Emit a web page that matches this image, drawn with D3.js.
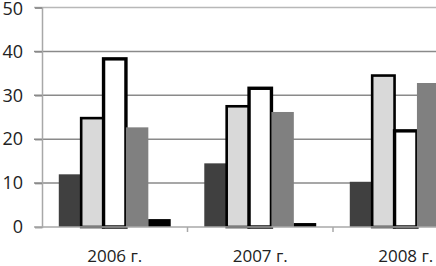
<!DOCTYPE html>
<html>
<head>
<meta charset="utf-8">
<script src="https://cdn.jsdelivr.net/npm/d3@7"></script>
<style>
  body { margin: 0; background: #fff; }
  text { font-family: "Open Sans", sans-serif; fill: #222; }
</style>
</head>
<body>
<div id="chart"></div>
<script>
// Data
const years = ["2006 г.", "2007 г.", "2008 г."];
const series1 = [12, 14.5, 10.3];
const series2 = [24.8, 27.5, 34.5];
const series3 = [38.3, 31.6, 21.9];
const series4 = [22.7, 26.2, 32.8];
const series5 = [1.8, 0.9, 1.5];
const yTicks = [0, 10, 20, 30, 40, 50];

const seriesList = [
    { key: "s1", values: series1, fill: "#404040", stroke: "none", sw: 0 },
    { key: "s2", values: series2, fill: "#d9d9d9", stroke: "#000", sw: 2.6 },
    { key: "s3", values: series3, fill: "#ffffff", stroke: "#000", sw: 3.4 },
    { key: "s4", values: series4, fill: "#808080", stroke: "none", sw: 0 },
    { key: "s5", values: series5, fill: "#000000", stroke: "none", sw: 0 }
];

const width = 436, height = 266;
const plotLeft = 42, plotTop = 7.5, plotBottom = 227;
const catWidth = 145.5;

const svg = d3.select("#chart")
    .append("svg")
    .attr("width", width)
    .attr("height", height);

// Scales - plot runs past the right edge (third group is cut off)
const x = d3.scaleBand()
    .domain(years)
    .range([plotLeft, plotLeft + catWidth * years.length]);

const xInner = d3.scaleBand()
    .domain(seriesList.map(s => s.key))
    .range([0, x.bandwidth()])
    .paddingInner(0)
    .paddingOuter(0.75);

const y = d3.scaleLinear().domain([0, 50]).range([plotBottom, plotTop]);

// Gridlines
svg.append("g")
    .selectAll("line")
    .data(yTicks.filter(d => d > 0))
    .join("line")
    .attr("x1", plotLeft - 8)
    .attr("x2", width)
    .attr("y1", d => y(d))
    .attr("y2", d => y(d))
    .attr("stroke", d => d === 50 ? "#b8b8b8" : "#8a8a8a")
    .attr("stroke-width", 1.5);

// Y axis
const yAxis = svg.append("g")
    .attr("transform", `translate(${plotLeft},0)`)
    .call(d3.axisLeft(y).tickValues(yTicks).tickSize(7).tickPadding(10));
yAxis.select(".domain").attr("stroke", "#a8a8a8").attr("stroke-width", 1.5);
yAxis.selectAll(".tick line").attr("stroke", "#8a8a8a").attr("stroke-width", 1.5);
yAxis.selectAll(".tick text")
    .attr("font-size", 18)
    .attr("font-family", "Open Sans, sans-serif")
    .attr("fill", "#222")
    .attr("x", -19)
    .attr("dy", d => d === 50 ? "0.4em" : "0.32em");

// Bars
seriesList.forEach(s => {
    svg.append("g")
        .selectAll("rect")
        .data(s.values.map((v, i) => ({ year: years[i], value: v })))
        .join("rect")
        .attr("x", d => x(d.year) + xInner(s.key))
        .attr("y", d => y(d.value))
        .attr("width", xInner.bandwidth())
        .attr("height", d => y(0) - y(d.value))
        .attr("fill", s.fill)
        .attr("stroke", s.stroke)
        .attr("stroke-width", s.sw);
});

// X axis
const xAxis = svg.append("g")
    .attr("transform", `translate(0,${plotBottom})`)
    .call(d3.axisBottom(x).tickSize(0).tickPadding(23));
xAxis.select(".domain").remove();
xAxis.selectAll(".tick text")
    .attr("font-size", 17)
    .attr("font-family", "Open Sans, sans-serif")
    .attr("fill", "#222");

svg.append("line")
    .attr("x1", plotLeft - 8).attr("x2", width)
    .attr("y1", plotBottom).attr("y2", plotBottom)
    .attr("stroke", "#a8a8a8").attr("stroke-width", 1.5);

// Tick marks between categories
svg.append("g")
    .selectAll("line")
    .data(years.slice(1))
    .join("line")
    .attr("x1", d => x(d)).attr("x2", d => x(d))
    .attr("y1", plotBottom).attr("y2", plotBottom + 5)
    .attr("stroke", "#a8a8a8").attr("stroke-width", 1.5);
</script>
</body>
</html>
